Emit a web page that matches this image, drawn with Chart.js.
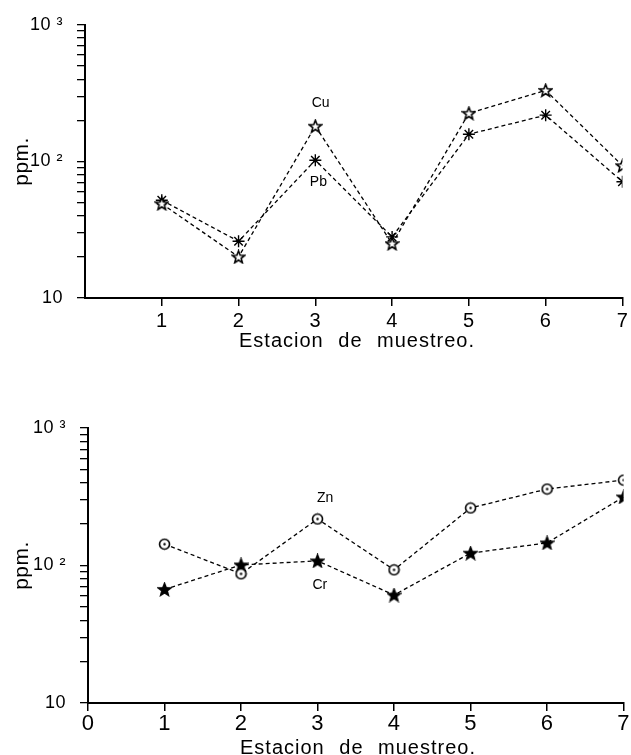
<!DOCTYPE html>
<html>
<head>
<meta charset="utf-8">
<script src="https://cdn.jsdelivr.net/npm/chart.js@4"></script>
<style>
  body { margin: 0; background: #fff; }
  .wrap { position: absolute; left: 0; width: 631px; }
  #top { top: 0; height: 355px; }
  #bottom { top: 400px; height: 355px; }
</style>
</head>
<body>
<div class="wrap" id="top"><canvas id="chartTop"></canvas></div>
<div class="wrap" id="bottom"><canvas id="chartBottom"></canvas></div>
<script>
// --- data ---
const stations = [1, 2, 3, 4, 5, 6, 7];
const cuValues = [49, 20, 181, 25, 225, 331, 93];
const pbValues = [52, 26, 102, 28, 158, 218, 71];
const znValues = [143, 87, 218, 93, 262, 360, 418];
const crValues = [67, 101, 108, 61, 123, 146, 315];

const xTicks = [0, 1, 2, 3, 4, 5, 6, 7];
const yMajor = { 10: '10', 100: '10 ²', 1000: '10 ³' };
const xTitle = 'Estacion de muestreo.';

// in-plot labels: name, station, ppm
const topNotes = [['Cu', 3.07, 266], ['Pb', 3.04, 70]];
const bottomNotes = [['Zn', 3.1, 309], ['Cr', 3.03, 72]];

const FONT = 'Liberation Sans';

// ============================================
// MARKERS
// ============================================

function starMarker(filled) {
  const c = document.createElement('canvas');
  c.width = 15; c.height = 15;
  const g = c.getContext('2d');
  g.beginPath();
  for (let i = 0; i < 10; i++) {
    const r = i % 2 === 0 ? 6.5 : 2.8;
    const a = -Math.PI / 2 + i * Math.PI / 5;
    const px = 7.5 + r * Math.cos(a), py = 8 + r * Math.sin(a);
    i === 0 ? g.moveTo(px, py) : g.lineTo(px, py);
  }
  g.closePath();
  g.lineWidth = 1.6;
  g.strokeStyle = '#000';
  g.fillStyle = filled ? '#000' : '#fff';
  g.fill();
  g.stroke();
  return c;
}

function dotCircleMarker() {
  const c = document.createElement('canvas');
  c.width = 13; c.height = 13;
  const g = c.getContext('2d');
  g.fillStyle = '#fff';
  g.beginPath(); g.arc(6.5, 6.5, 5, 0, Math.PI * 2); g.fill();
  g.lineWidth = 1.6; g.strokeStyle = '#000'; g.stroke();
  g.fillStyle = '#000';
  g.beginPath(); g.arc(6.5, 6.5, 1.2, 0, Math.PI * 2); g.fill();
  return c;
}

// ============================================
// CHART BUILDER
// ============================================

function series(values, style) {
  return {
    data: stations.map((s, i) => ({ x: s, y: values[i] })),
    borderColor: '#000', borderWidth: 1.3, borderDash: [4, 3],
    pointStyle: style, pointRadius: 6, pointBorderColor: '#000',
    pointBackgroundColor: '#000', pointBorderWidth: 1.4,
    tension: 0, fill: false
  };
}

const notesPlugin = {
  id: 'notes',
  beforeDraw(chart) { chart.ctx.letterSpacing = '0.5px'; },
  afterDraw(chart, args, opts) {
    const ctx = chart.ctx;
    ctx.save();
    ctx.fillStyle = '#000';
    ctx.textAlign = 'center';
    ctx.textBaseline = 'middle';
    // in-plot element names
    ctx.letterSpacing = '0px';
    ctx.font = '14px ' + FONT;
    opts.items.forEach(([txt, x, y]) => {
      ctx.fillText(txt, chart.scales.x.getPixelForValue(x), chart.scales.y.getPixelForValue(y));
    });
    // x axis title, spaced out like the original lettering
    ctx.textBaseline = 'alphabetic';
    ctx.letterSpacing = '1px';
    ctx.wordSpacing = '8px';
    ctx.font = '20px ' + FONT;
    ctx.fillText(xTitle, opts.titleX, opts.titleY);
    ctx.restore();
  }
};

function buildChart(id, datasets, notes, o) {
  return new Chart(document.getElementById(id), {
    type: 'line',
    data: { datasets },
    plugins: [notesPlugin],
    options: {
      responsive: true, maintainAspectRatio: false, animation: false,
      layout: { padding: { top: o.top, right: o.right, bottom: 0, left: 0 } },
      plugins: {
        legend: { display: false }, tooltip: { enabled: false },
        notes: { items: notes, titleX: o.titleX, titleY: o.titleY }
      },
      scales: {
        x: {
          type: 'linear', min: 0, max: 7,
          afterBuildTicks: s => { s.ticks = xTicks.map(v => ({ value: v })); },
          afterFit: s => { s.height = o.xHeight; },
          ticks: {
            color: '#000', font: { family: FONT, size: o.xFont }, padding: o.xPad,
            maxRotation: 0, autoSkip: false,
            callback: v => (v === 0 && !o.showZero) ? '' : String(v)
          },
          grid: {
            drawOnChartArea: false, tickLength: 8, color: '#000', lineWidth: 1.5,
            tickColor: c => (c.tick && c.tick.value === 0 && !o.showZero) ? 'rgba(0,0,0,0)' : '#000'
          },
          border: { color: '#000', width: 2 }
        },
        y: {
          type: 'logarithmic', min: 10, max: 1000,
          afterBuildTicks: s => {
            const t = [];
            [10, 100].forEach(d => { for (let k = 1; k < 10; k++) t.push({ value: d * k }); });
            t.push({ value: 1000 });
            s.ticks = t;
          },
          afterFit: s => { s.width = o.yWidth; },
          ticks: {
            color: '#000', font: { family: FONT, size: 18 }, padding: 14, autoSkip: false,
            callback: v => yMajor[v] || ''
          },
          grid: { drawOnChartArea: false, tickLength: 8, color: '#000', lineWidth: 1.3 },
          border: { color: '#000', width: 2 },
          title: {
            display: true, text: 'ppm.', color: '#000',
            font: { family: FONT, size: 21 }, padding: { top: 10, bottom: 0 }
          }
        }
      }
    }
  });
}

// ============================================
// INIT
// ============================================

const openStar = starMarker(false);
const fullStar = starMarker(true);
const dotCircle = dotCircleMarker();

buildChart('chartTop', [series(cuValues, openStar), series(pbValues, 'star')], topNotes,
  { top: 23, right: 6, xHeight: 57, yWidth: 85, xFont: 20, xPad: 3,
    titleX: 357, titleY: 347, showZero: false });

buildChart('chartBottom', [series(znValues, dotCircle), series(crValues, fullStar)], bottomNotes,
  { top: 28, right: 3, xHeight: 52, yWidth: 88, xFont: 22, xPad: 0,
    titleX: 358, titleY: 354, showZero: true });
</script>
</body>
</html>
